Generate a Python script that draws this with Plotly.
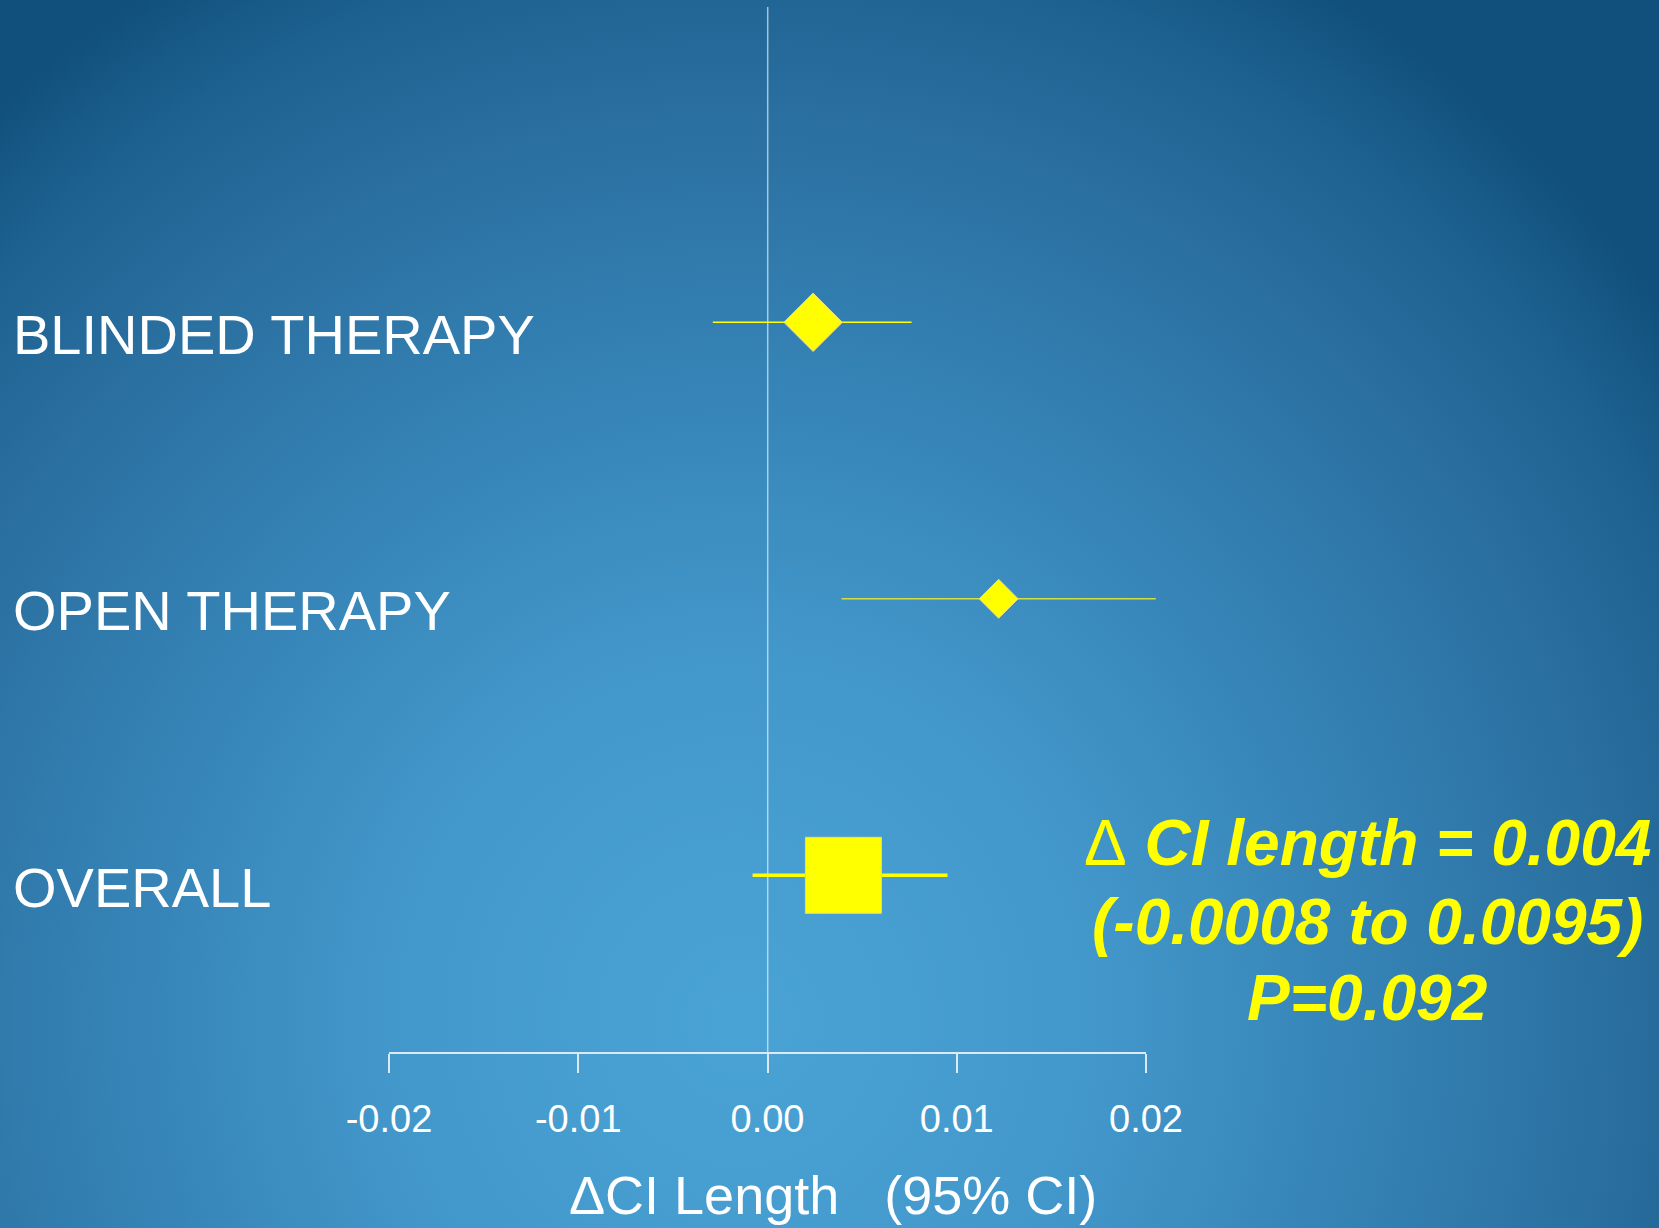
import base64
import plotly.graph_objects as go

# Forest plot: change in CI length by therapy group (95% CI)
categories = ["OVERALL", "OPEN THERAPY", "BLINDED THERAPY"]
estimates = [0.004, 0.0122, 0.0024]
lower = [-0.0008, 0.0039, -0.0029]
upper = [0.0095, 0.0205, 0.0076]
p_overall = 0.092

tick_vals = [-0.02, -0.01, 0.0, 0.01, 0.02]
tick_text = ["-0.02", "-0.01", "0.00", "0.01", "0.02"]

W, H = 1659, 1228
YELLOW = "#ffff00"
FONT = "Arial, Liberation Sans, Helvetica, sans-serif"

# Radial blue slide background, drawn as an inline SVG
bg_svg = f"""<svg xmlns="http://www.w3.org/2000/svg" width="{W}" height="{H}" viewBox="0 0 {W} {H}" preserveAspectRatio="none">
<defs><radialGradient id="g" gradientUnits="userSpaceOnUse" cx="740" cy="1020" r="1150"
 gradientTransform="translate(740 1020) scale(1 1.04) translate(-740 -1020)">
<stop offset="0" stop-color="#4aa3d5"/>
<stop offset="0.3" stop-color="#4398cb"/>
<stop offset="0.55" stop-color="#3582b5"/>
<stop offset="0.75" stop-color="#2a70a0"/>
<stop offset="0.9" stop-color="#1d6190"/>
<stop offset="1" stop-color="#11507d"/>
</radialGradient></defs>
<rect width="{W}" height="{H}" fill="url(#g)"/></svg>"""
bg_src = "data:image/svg+xml;base64," + base64.b64encode(bg_svg.encode()).decode()

rows = [i + 1 for i in range(len(categories))]
symbols = ["square", "diamond", "diamond"]
sizes = [76, 30, 45]
line_widths = [3.5, 1.6, 1.5]
line_colors = [YELLOW, "rgba(225,232,50,0.9)", YELLOW]

fig = go.Figure()

for i, cat in enumerate(categories):
    fig.add_trace(go.Scatter(
        x=[lower[i], upper[i]], y=[rows[i], rows[i]],
        mode="lines", line=dict(color=line_colors[i], width=line_widths[i]),
        hoverinfo="skip", showlegend=False,
    ))
    fig.add_trace(go.Scatter(
        x=[estimates[i]], y=[rows[i]], mode="markers", name=cat,
        marker=dict(symbol=symbols[i], size=sizes[i], color=YELLOW,
                    line=dict(color="rgba(225,215,160,1)", width=1)),
        showlegend=False,
    ))

# empty trace so the bottom scale axis is drawn
fig.add_trace(go.Scatter(x=[None], y=[None], xaxis="x2", yaxis="y",
                         showlegend=False, hoverinfo="skip"))

px_per_unit = 18930.0
zero_px = 767.7
row_px = 276.5
fig.update_layout(
    width=W, height=H,
    margin=dict(l=0, r=0, t=0, b=0, pad=0, autoexpand=False),
    paper_bgcolor="#1d6391",
    plot_bgcolor="rgba(0,0,0,0)",
    showlegend=False,
    xaxis=dict(domain=[0, 1], range=[-zero_px / px_per_unit, (W - zero_px) / px_per_unit],
               visible=False, fixedrange=True, automargin=False),
    yaxis=dict(domain=[0, 1], range=[1 - (H - 875.3) / row_px, 1 + 875.3 / row_px],
               visible=False, fixedrange=True, automargin=False),
    xaxis2=dict(domain=[389 / W, 1146 / W], range=[-0.02, 0.02], anchor="free",
                position=1 - 1053 / H, automargin=False,
                tickvals=tick_vals, ticktext=tick_text,
                ticks="outside", ticklen=19, tickwidth=1.5, tickcolor="#dde8f0",
                showline=True, linecolor="#dde8f0", linewidth=1.5,
                showgrid=False, zeroline=False, fixedrange=True,
                tickfont=dict(family=FONT, size=38, color="white"),
                ticklabelstandoff=14),
    images=[dict(source=bg_src, xref="paper", yref="paper", x=0, y=1,
                 sizex=1, sizey=1, xanchor="left", yanchor="top",
                 sizing="stretch", layer="below")],
    shapes=[dict(type="line", xref="x", yref="paper", x0=0, x1=0,
                 y0=1 - 1053 / H, y1=1 - 7 / H, layer="below",
                 line=dict(color="rgba(235,245,255,0.65)", width=1.5))],
)

# row labels
for i, cat in enumerate(categories):
    fig.add_annotation(x=11 / W, xref="paper", y=rows[i], yref="y", yshift=-12,
                       text=cat, showarrow=False, xanchor="left", yanchor="middle",
                       font=dict(family=FONT, size=56, color="white"))

# axis title
fig.add_annotation(x=833 / W, xref="paper", y=1 - 1195 / H, yref="paper",
                   text="ΔCI Length\u00a0\u00a0\u00a0(95% CI)", showarrow=False,
                   xanchor="center", yanchor="middle",
                   font=dict(family=FONT, size=54, color="white"))

# overall summary statistics
delta = "<span style='font-weight:normal;font-style:normal'>Δ</span>"
summary_lines = [
    f"{delta} CI length = {estimates[0]}",
    f"({lower[0]} to {upper[0]})",
    f"P={p_overall}",
]
summary_y = [843, 922, 998]
for txt, yp in zip(summary_lines, summary_y):
    fig.add_annotation(x=1367 / W, xref="paper", y=1 - yp / H, yref="paper",
                       text=txt, showarrow=False, xanchor="center", yanchor="middle",
                       font=dict(family=FONT, size=64, color=YELLOW,
                                 weight="bold", style="italic"))

fig.write_html("out.html")
